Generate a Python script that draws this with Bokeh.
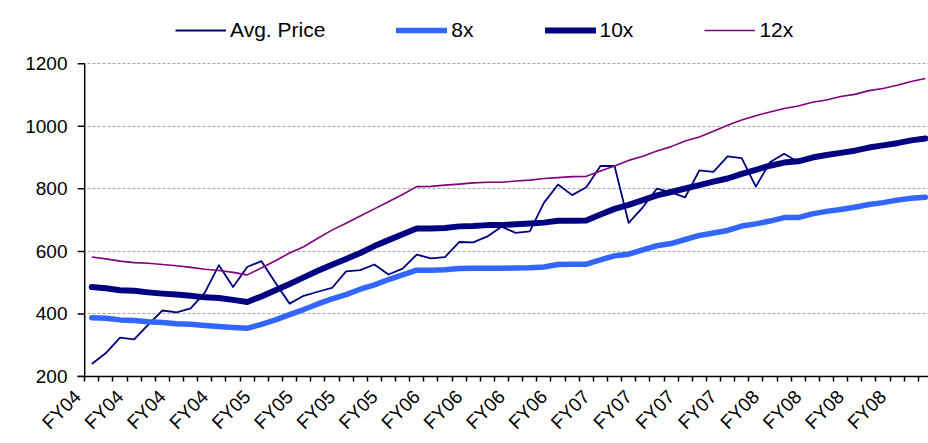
import math
from bokeh.plotting import figure
from bokeh.models import (Range1d, FixedTicker, Legend, LegendItem, ColumnDataSource)
from bokeh.embed import file_html
from bokeh.resources import INLINE

# ---------------- data ----------------
period_index = list(range(60))
tick_positions = [0, 3, 6, 9, 12, 15, 18, 21, 24, 27, 30, 33, 36, 39, 42, 45, 48, 51, 54, 57]
tick_labels = ["FY04", "FY04", "FY04", "FY04", "FY05", "FY05", "FY05", "FY05",
               "FY06", "FY06", "FY06", "FY06", "FY07", "FY07", "FY07", "FY07",
               "FY08", "FY08", "FY08", "FY08"]

avg_price = [240, 275, 324, 319, 366, 411, 405, 418, 468, 556,
             486, 550, 569, 500, 433, 458, 471, 483, 536, 540,
             558, 526, 545, 590, 578, 582, 630, 629, 648, 679,
             659, 664, 755, 814, 780, 805, 873, 873, 691, 741,
             801, 789, 773, 859, 854, 904, 898, 807, 885, 912,
             886]

pe_8x = [388, 386, 381, 379, 375, 373, 369, 367, 363, 360,
         357, 354, 367, 381, 398, 414, 432, 448, 462, 479,
         493, 510, 525, 540, 540, 541, 545, 546, 546, 546,
         547, 548, 550, 558, 559, 559, 573, 586, 591, 605,
         618, 625, 638, 651, 659, 667, 681, 688, 697, 708,
         708, 720, 728, 734, 741, 750, 756, 764, 770, 773]

pe_10x = [486, 482, 476, 474, 469, 465, 462, 458, 453, 451,
          445, 438, 456, 476, 496, 517, 538, 557, 576, 595,
          617, 636, 655, 673, 673, 675, 680, 681, 684, 684,
          687, 689, 692, 698, 698, 699, 718, 736, 749, 764,
          779, 790, 801, 812, 823, 833, 848, 861, 874, 884,
          888, 900, 908, 915, 922, 932, 939, 946, 955, 961]

pe_12x = [582, 576, 569, 564, 562, 558, 554, 549, 543, 539,
          533, 525, 547, 570, 595, 615, 642, 668, 690, 713,
          736, 759, 782, 807, 808, 812, 815, 819, 821, 821,
          825, 828, 833, 836, 839, 840, 857, 873, 891, 904,
          921, 935, 953, 966, 984, 1003, 1020, 1034, 1046, 1057,
          1065, 1077, 1084, 1095, 1102, 1114, 1121, 1131, 1143, 1153]

y_ticks = [200, 400, 600, 800, 1000, 1200]

FONT = "Liberation Sans"

X_START = -1.01      # room left of the category axis for the y tick marks
AXIS_X = -0.5        # category boundary where the value axis sits
LABEL_SHIFT = -1     # rotated category labels end one slot to the left (Excel style)
Y_TOP = 1402.2       # frame reaches the top of the canvas so the legend fits inside

p = figure(width=928, height=443, output_backend="svg", toolbar_location=None,
           x_range=Range1d(X_START, 59.22), y_range=Range1d(y_ticks[0], Y_TOP),
           min_border_left=77, min_border_right=0, min_border_top=0,
           min_border_bottom=66)
p.outline_line_color = None
p.background_fill_color = "white"
p.border_fill_color = "white"

src_avg = ColumnDataSource(dict(x=period_index[:len(avg_price)], y=avg_price))
src = ColumnDataSource(dict(x=period_index, y8=pe_8x, y10=pe_10x, y12=pe_12x))

# value axis line and its tick marks
p.segment(x0=[AXIS_X], y0=[y_ticks[0]], x1=[AXIS_X], y1=[y_ticks[-1]],
          line_color="black", line_width=1.5)
p.segment(x0=[X_START] * len(y_ticks), y0=y_ticks, x1=[AXIS_X] * len(y_ticks),
          y1=y_ticks, line_color="black", line_width=1.5)

r_avg = p.line("x", "y", source=src_avg, line_color="#000080", line_width=1.8,
               line_join="round")
r8 = p.line("x", "y8", source=src, line_color="#3366FF", line_width=5.5,
            line_join="round", line_cap="round")
r10 = p.line("x", "y10", source=src, line_color="#000080", line_width=6,
             line_join="round", line_cap="round")
r12 = p.line("x", "y12", source=src, line_color="#800080", line_width=1.6,
             line_join="round")

# category axis
label_pos = [t + LABEL_SHIFT for t in tick_positions]
p.xaxis.ticker = FixedTicker(ticks=label_pos,
                             minor_ticks=[i - 0.5 for i in range(61)])
p.xaxis.major_label_overrides = {pos: lab for pos, lab in zip(label_pos, tick_labels)}
p.xaxis.major_label_orientation = math.pi / 4
p.xaxis.major_tick_out = 0
p.xaxis.major_tick_in = 0
p.xaxis.minor_tick_out = 5
p.xaxis.minor_tick_in = 0
p.xaxis.minor_tick_line_color = "black"
p.xaxis.minor_tick_line_width = 1.5
p.xaxis.axis_line_color = "black"
p.xaxis.axis_line_width = 1.5
p.xaxis.major_label_standoff = 12
p.xaxis.major_label_text_font = FONT
p.xaxis.major_label_text_font_size = "19px"
p.xaxis.major_label_text_color = "black"

# value axis labels
p.yaxis.ticker = FixedTicker(ticks=y_ticks)
p.yaxis.minor_tick_line_color = None
p.yaxis.major_tick_line_color = None
p.yaxis.axis_line_color = None
p.yaxis.major_tick_out = 0
p.yaxis.major_tick_in = 0
p.yaxis.major_label_standoff = 10
p.yaxis.major_label_text_font = FONT
p.yaxis.major_label_text_font_size = "19px"
p.yaxis.major_label_text_color = "black"

p.xgrid.grid_line_color = None
p.ygrid.ticker = FixedTicker(ticks=y_ticks)
p.ygrid.grid_line_color = "#a6a6a6"
p.ygrid.grid_line_dash = "3 2"
p.ygrid.grid_line_width = 1

legend = Legend(items=[LegendItem(label="Avg. Price", renderers=[r_avg]),
                       LegendItem(label="8x", renderers=[r8]),
                       LegendItem(label="10x", renderers=[r10]),
                       LegendItem(label="12x", renderers=[r12])],
                orientation="horizontal", location=(98, 334),
                glyph_width=51, glyph_height=20, label_height=20,
                label_standoff=4, spacing=71, padding=0, margin=0,
                border_line_color=None, background_fill_alpha=0,
                label_text_font=FONT, label_text_font_size="21px",
                label_text_color="black")
p.add_layout(legend, "center")

open("out.html", "w").write(file_html(p, INLINE))
